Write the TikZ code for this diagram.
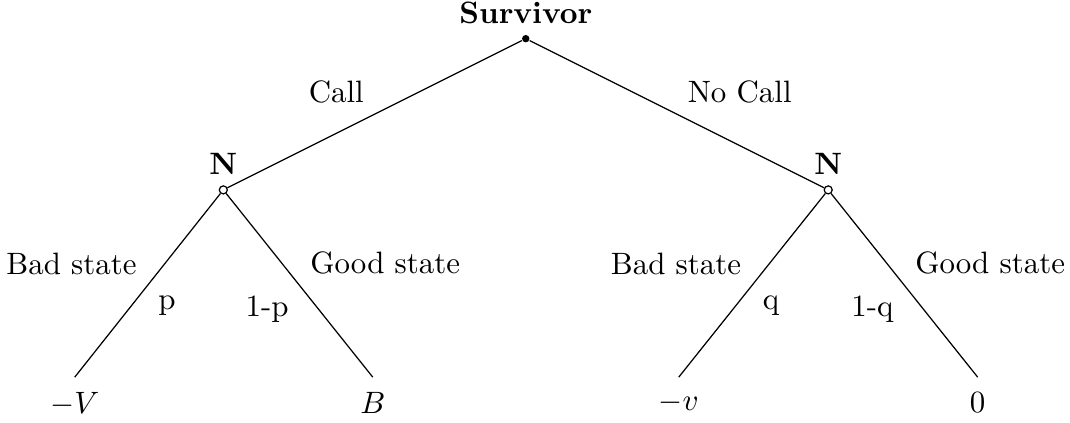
\documentclass[tikz,border=0pt]{standalone}
\usepackage{amsmath}
\usepackage{tikz}
\tikzset{
  player/.style={circle,fill,inner sep=0pt,minimum size=2.4pt},
  chance/.style={circle,draw,fill=white,inner sep=0pt,minimum size=2.6pt},
  payoff/.style={label={[label distance=1.5pt]below:#1}}
}

\begin{document}
\begin{tikzpicture}
\useasboundingbox (-5.98,0.44) rectangle (6.19,-4.36);
\node[player,label={above:\textbf{Survivor}}] (N0) at (0,0) {};
\node[chance,label={above:\textbf{N}}] (N1) at (-3.44,-1.72) {};
\node[chance,label={above:\textbf{N}}] (N2) at (3.44,-1.72) {};
\coordinate[payoff={$-V$}] (L1) at (-5.13,-3.85);
\coordinate[payoff={$B$}] (L2) at (-1.74,-3.85);
\coordinate[payoff={$-v$}] (L3) at (1.74,-3.85);
\coordinate[payoff={$0$}] (L4) at (5.14,-3.85);
\draw[-] (N0) -- node[above left]{Call} (N1);
\draw[-] (N0) -- node[above right]{No Call} (N2);
\draw[-] (N1) -- node[above left]{Bad state} node[below right]{p} (L1);
\draw[-] (N1) -- node[above right]{Good state} node[below left]{1-p} (L2);
\draw[-] (N2) -- node[above left]{Bad state} node[below right]{q} (L3);
\draw[-] (N2) -- node[above right]{Good state} node[below left]{1-q} (L4);
\end{tikzpicture}
\end{document}
